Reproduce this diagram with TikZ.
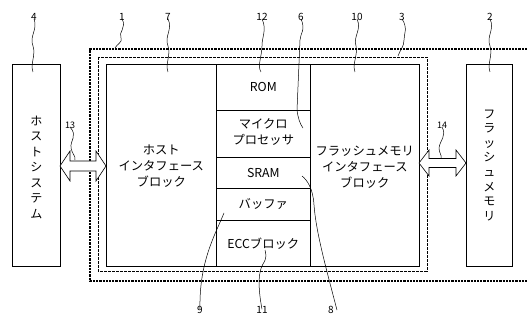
\documentclass[tikz,border=0pt]{standalone}
\usepackage{fontspec}
\setmainfont{Noto Sans CJK JP}
\begin{document}
\begin{tikzpicture}[x=1pt,y=-1pt,
  lbl/.style={font=\fontsize{10}{12}\selectfont, inner sep=0pt},
  txt/.style={font=\fontsize{12.3}{16.3}\selectfont, align=center, inner sep=0pt},
  vtxt/.style={font=\fontsize{12}{15.5}\selectfont, align=center, inner sep=0pt},
  box/.style={draw, line width=0.6pt, inner sep=0pt, anchor=north west},
  lead/.style={line width=0.5pt},
  barrow/.style={draw, fill=white, line width=0.6pt, line join=miter}]
\useasboundingbox (0,0) rectangle (527,320);

% enclosure 1 (open to the right)
\draw[line width=1.3pt, dash pattern=on 2.2pt off 1pt] (527,49) -- (90,49) -- (90,281) -- (527,281);
% enclosure 3
\draw[line width=0.9pt, dash pattern=on 3pt off 1pt] (98,57) rectangle (427,271);

% host system and flash memory
\node[box, minimum width=48pt, minimum height=202pt] (host) at (12,64) {};
\node[vtxt] (hosttxt) at ([yshift=-2pt]host.center) {ホ\\ス\\ト\\シ\\ス\\テ\\ム};
\node[box, minimum width=46pt, minimum height=202pt] (flash) at (466,64) {};
\node[vtxt, font=\fontsize{12}{14.6}\selectfont] (flashtxt) at (flash.center) {フ\\ラ\\ッ\\シ\\ュ\\メ\\モ\\リ};

% controller blocks
\node[box, minimum width=110pt, minimum height=202pt] (hif) at (106,64) {};
\node[txt] at ([yshift=-1pt]hif.center) {ホスト\\インタフェース\\ブロック};
\node[box, minimum width=109pt, minimum height=202pt] (fif) at (310,64) {};
\node[txt] at ([yshift=-2pt]fif.center) {フラッシュメモリ\\インタフェース\\ブロック};

\node[box, minimum width=94pt, minimum height=46pt] (rom) at (216,64) {};
\node[txt] at (rom.center) {ROM};
\node[box, minimum width=94pt, minimum height=47pt] (mpu) at (216,110) {};
\node[txt, font=\fontsize{12.3}{15.5}\selectfont] at ([yshift=2pt]mpu.center) {マイクロ\\プロセッサ};
\node[box, minimum width=94pt, minimum height=31pt] (sram) at (216,157) {};
\node[txt] at (sram.center) {SRAM};
\node[box, minimum width=94pt, minimum height=32pt] (buf) at (216,188) {};
\node[txt] at (buf.center) {バッファ};
\node[box, minimum width=94pt, minimum height=46pt] (ecc) at (216,220) {};
\node[txt] at (ecc.center) {ECCブロック};

% double block arrows 13 and 14
\draw[barrow] (60,166) -- (70,151) -- (70,161) -- (96,161) -- (96,151) -- (106,166)
  -- (96,181) -- (96,171) -- (70,171) -- (70,181) -- cycle;
\draw[barrow] (419,163) -- (429,150) -- (429,158.5) -- (456,158.5) -- (456,150) -- (466,163)
  -- (456,176) -- (456,167.5) -- (429,167.5) -- (429,176) -- cycle;

% reference numerals
\node[lbl] (n4) at (34,17) {4};
\node[lbl] (n1) at (122,17) {1};
\node[lbl] (n7) at (168,17) {7};
\node[lbl] (n12) at (262,17) {12};
\node[lbl] (n6) at (301,17) {6};
\node[lbl] (n10) at (357,17) {10};
\node[lbl] (n3) at (402,17) {3};
\node[lbl] (n2) at (490,17) {2};
\node[lbl, font=\fontsize{9}{11}\selectfont] (n13) at (70,125) {13};
\node[lbl, font=\fontsize{9}{11}\selectfont] (n14) at (442,125) {14};
\node[lbl] (n9) at (200,310) {9};
\node[lbl] (n11) at (262,310) {11};
\node[lbl] (n8) at (331,310) {8};

% leader targets
\coordinate (t4) at (33,72);
\coordinate (t1) at (115,48);
\coordinate (t7) at (168,72);
\coordinate (t12) at (261,72);
\coordinate (t6) at (303,128);
\coordinate (t10) at (355,72);
\coordinate (t3) at (398,56);
\coordinate (t2) at (490,72);
\coordinate (t13) at (75,160);
\coordinate (t14) at (441,158);
\coordinate (t9) at (224,213);
\coordinate (t11) at (265,250);
\coordinate (t8) at (302,176);

% leader lines
\draw[lead] ([yshift=2pt]n4.south) .. controls (38,30) and (29,36) .. (33,46) .. controls (36,55) and (30,64) .. (t4);
\draw[lead] ([yshift=2pt]n1.south) .. controls (127,28) and (118,32) .. (121,38) .. controls (123,42) and (117,44) .. (t1);
\draw[lead] ([yshift=2pt]n7.south) .. controls (173,30) and (164,36) .. (168,46) .. controls (171,55) and (165,64) .. (t7);
\draw[lead] ([yshift=2pt]n12.south) .. controls (267,30) and (262,36) .. (262,46) .. controls (262,56) and (257,66) .. (t12);
\draw[lead] ([yshift=2pt]n6.south) .. controls (306,30) and (300,34) .. (300,40) -- (297,110) .. controls (298,118) and (300,124) .. (t6);
\draw[lead] ([yshift=2pt]n10.south) .. controls (362,30) and (353,36) .. (356,46) .. controls (358,55) and (352,64) .. (t10);
\draw[lead] ([yshift=2pt]n3.south) .. controls (408,28) and (404,34) .. (404,40) .. controls (404,47) and (400,50) .. (t3);
\draw[lead] ([yshift=2pt]n2.south) .. controls (495,30) and (486,36) .. (490,46) .. controls (493,55) and (487,64) .. (t2);
\draw[lead] ([yshift=1.5pt]n13.south) .. controls (78,136) and (70,140) .. (71,148) .. controls (72,154) and (76,156) .. (t13);
\draw[lead] ([yshift=1.5pt]n14.south) .. controls (447,136) and (440,140) .. (439,148) .. controls (439,153) and (442,155) .. (t14);
\draw[lead] ([yshift=-3pt]n9.north) .. controls (199,262) and (215,235) .. (t9);
\draw[lead] ([yshift=-3pt]n11.north) .. controls (258,288) and (258,272) .. (263,264) .. controls (267,258) and (266,254) .. (t11);
\draw[lead] ([xshift=6pt,yshift=-4pt]n8.north) .. controls (326,268) and (316,232) .. (314,205) .. controls (313,188) and (307,180) .. (t8);
\end{tikzpicture}
\end{document}
